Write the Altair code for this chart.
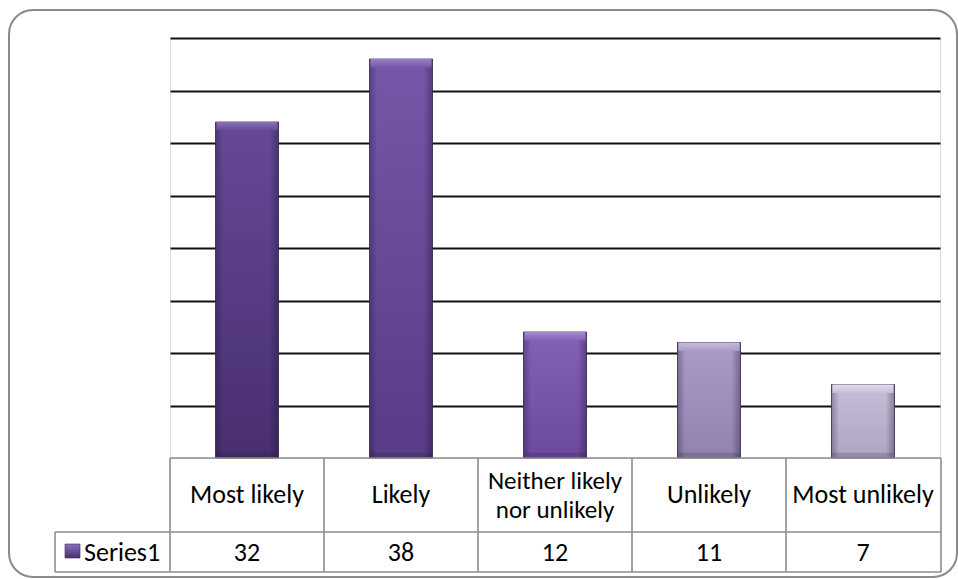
import altair as alt
import pandas as pd

# Survey answers and counts
categories = ["Most likely", "Likely", "Neither likely\nnor unlikely", "Unlikely", "Most unlikely"]
values = [32, 38, 12, 11, 7]
series_name = "Series1"
y_ticks = [5, 10, 15, 20, 25, 30, 35, 40]

# Per-bar shading (top of body, bottom of body, bevel highlight)
body_top = ["#654997", "#7657a9", "#8262b6", "#aa9ac6", "#c6bed8"]
body_bottom = ["#482f6f", "#583c87", "#6a4a9d", "#9282ae", "#aea6c1"]
bevel_light = ["#8a70b8", "#9a7ec8", "#a488d4", "#c8bcdc", "#e2dcec"]

FONT = "Carlito, Lato, sans-serif"
FS = 26
W, H = 770, 420          # plot area
TABLE_R = 771            # right edge of the data table
ROW1 = 494               # separator between label row and value row
ROW2 = 534               # bottom of the table
LEFT = -115              # left edge of the series cell

df = pd.DataFrame({"category": categories, "value": values})
df["lines"] = df["category"].str.count("\n") + 1

x_scale = alt.Scale(domain=categories, paddingInner=0, paddingOuter=0)
y_scale = alt.Scale(domain=[0, 40], nice=False, zero=True)
y_axis = alt.Axis(values=y_ticks, grid=True, gridColor="#111111", gridWidth=1.8,
                  labels=False, ticks=False, domain=False, title=None)
x_enc = alt.X("category:N", scale=x_scale, axis=None, sort=categories)
y_enc = alt.Y("value:Q", scale=y_scale, axis=y_axis)

layers = []

# Bars: one layer set per bar so each gets its own shading
for i, cat in enumerate(categories):
    base = alt.Chart(df).transform_filter(alt.datum.category == cat)
    body = base.mark_bar(
        size=63,
        stroke="#3a2a52",
        strokeWidth=0.8,
        color=alt.Gradient(
            gradient="linear", x1=0, x2=0, y1=0, y2=1,
            stops=[alt.GradientStop(color=body_top[i], offset=0),
                   alt.GradientStop(color=body_bottom[i], offset=1)],
        ),
    ).encode(x=x_enc, y=y_enc)
    edges = base.mark_bar(
        size=63,
        color=alt.Gradient(
            gradient="linear", x1=0, x2=1, y1=0, y2=0,
            stops=[alt.GradientStop(color="rgba(20,10,40,0.30)", offset=0),
                   alt.GradientStop(color="rgba(20,10,40,0)", offset=0.12),
                   alt.GradientStop(color="rgba(20,10,40,0)", offset=0.86),
                   alt.GradientStop(color="rgba(20,10,40,0.35)", offset=1)],
        ),
    ).encode(x=x_enc, y=y_enc)
    bevel = base.transform_calculate(bevel_end="datum.value - 0.8").mark_bar(
        size=61,
        color=alt.Gradient(
            gradient="linear", x1=0, x2=0, y1=0, y2=1,
            stops=[alt.GradientStop(color=bevel_light[i], offset=0),
                   alt.GradientStop(color=body_top[i], offset=1)],
        ),
    ).encode(x=x_enc, y=y_enc, y2="bevel_end:Q")
    bottom = base.transform_calculate(b0="0", b1="0.5").mark_bar(
        size=61, color="rgba(30,20,50,0.18)"
    ).encode(x=x_enc, y=alt.Y("b1:Q", scale=y_scale, axis=y_axis), y2="b0:Q")
    layers += [body, edges, bevel, bottom]

# Data table beneath the plot
hlines = pd.DataFrame({"y": [H, ROW1, ROW2], "x0": [0, LEFT, LEFT]})
for _, r in hlines.iterrows():
    layers.append(
        alt.Chart(df.head(1)).mark_rule(color="#8c8c8c", strokeWidth=1.6).encode(
            x=alt.value(int(r.x0)), x2=alt.value(TABLE_R), y=alt.value(int(r.y))
        )
    )
layers.append(
    alt.Chart(df).mark_rule(color="#8c8c8c", strokeWidth=1.6).encode(
        x=alt.X("category:N", scale=x_scale, axis=None, sort=categories, bandPosition=0),
        y=alt.value(H), y2=alt.value(ROW2),
    )
)
layers.append(
    alt.Chart(df.head(1)).mark_rule(color="#8c8c8c", strokeWidth=1.6).encode(
        x=alt.value(TABLE_R), y=alt.value(H), y2=alt.value(ROW2)
    )
)
layers.append(
    alt.Chart(df.head(1)).mark_rule(color="#8c8c8c", strokeWidth=1.6).encode(
        x=alt.value(LEFT), y=alt.value(ROW1), y2=alt.value(ROW2)
    )
)

# Category labels (single-line and two-line cells centred separately)
LH = 29
layers.append(
    alt.Chart(df).transform_filter(alt.datum.lines == 1)
    .mark_text(font=FONT, fontSize=FS, color="#000000", baseline="middle")
    .encode(x=x_enc, y=alt.value((H + ROW1) / 2), text="category:N")
)
layers.append(
    alt.Chart(df).transform_filter(alt.datum.lines == 2)
    .mark_text(font=FONT, fontSize=FS - 1, color="#000000", lineBreak="\n",
               baseline="middle", lineHeight=LH, dy=-LH / 2)
    .encode(x=x_enc, y=alt.value((H + ROW1) / 2), text="category:N")
)
layers.append(
    alt.Chart(df).mark_text(font=FONT, fontSize=FS, color="#000000", baseline="middle").encode(
        x=x_enc, y=alt.value((ROW1 + ROW2) / 2 + 1), text=alt.Text("value:Q")
    )
)

# Series key and name
layers.append(
    alt.Chart(df.head(1)).mark_rect(
        stroke="#3a2a52", strokeWidth=0.6,
        color=alt.Gradient(
            gradient="linear", x1=0, x2=0, y1=0, y2=1,
            stops=[alt.GradientStop(color="#8a70b8", offset=0),
                   alt.GradientStop(color="#4a3071", offset=1)],
        ),
    ).encode(x=alt.value(-105), x2=alt.value(-90), y=alt.value(506), y2=alt.value(520))
)
layers.append(
    alt.Chart(pd.DataFrame({"s": [series_name]})).mark_text(
        font=FONT, fontSize=FS, color="#000000", align="left", baseline="middle"
    ).encode(x=alt.value(-86), y=alt.value(515), text="s:N")
)

# Rounded chart frame
layers.append(
    alt.Chart(df.head(1)).mark_rect(
        fill="transparent", stroke="#8a8a8a", strokeWidth=2, cornerRadius=24
    ).encode(x=alt.value(-161), x2=alt.value(787), y=alt.value(-28), y2=alt.value(539))
)

chart = (
    alt.layer(*layers)
    .properties(
        width=W, height=H, autosize="none",
        padding={"left": 170, "top": 38, "right": 18, "bottom": 121},
    )
    .configure_view(strokeWidth=0)
    .configure(background="white")
)

chart.save("out.html", embed_options={"renderer": "svg", "actions": False})
